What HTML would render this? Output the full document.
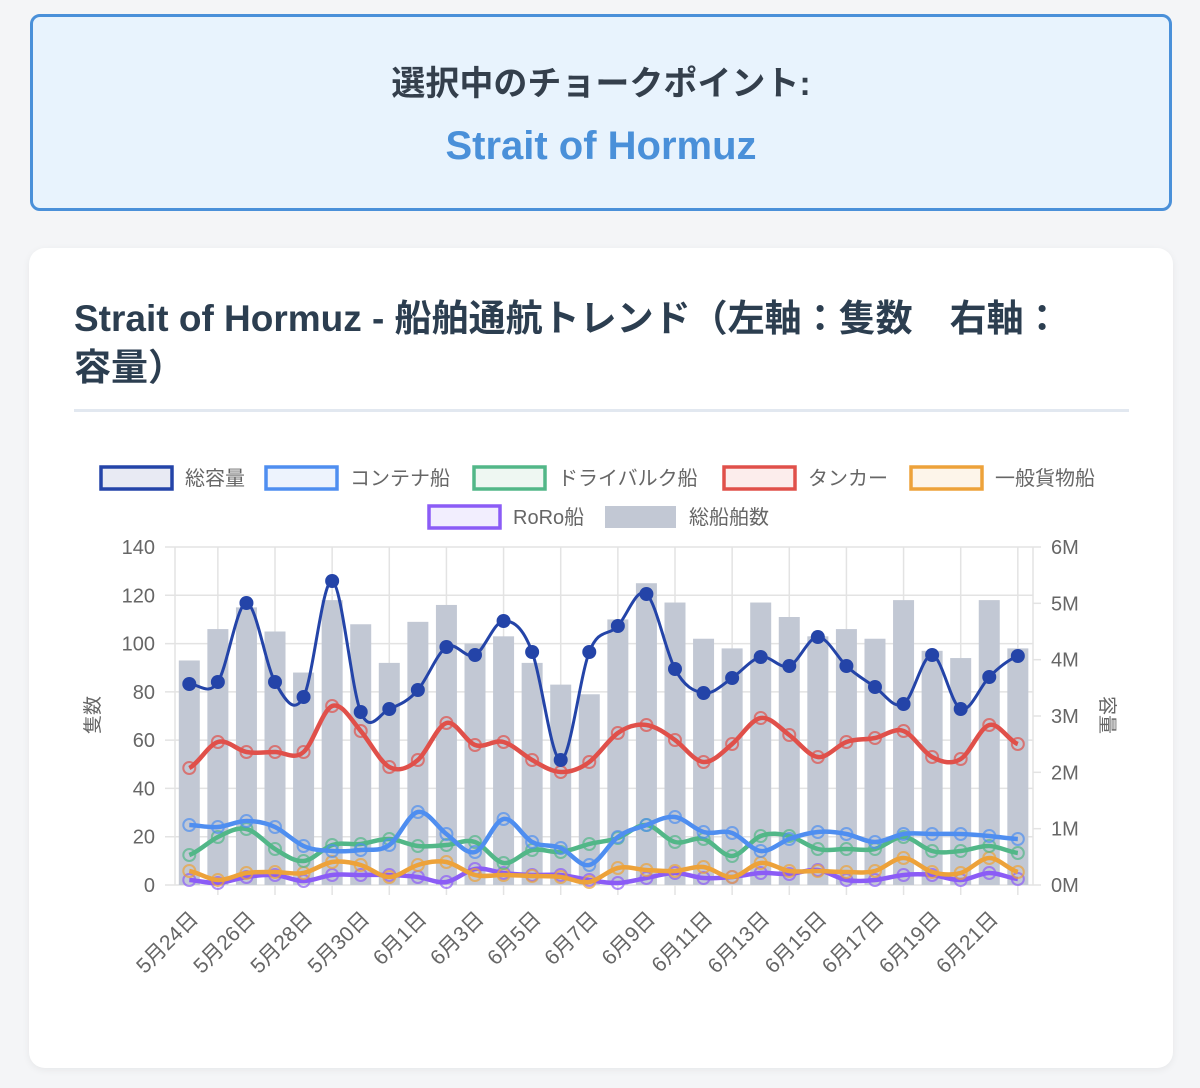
<!DOCTYPE html>
<html><head><meta charset="utf-8">
<style>
body{margin:0;width:1200px;height:1088px;background:#f4f5f7;font-family:"Liberation Sans","Noto Sans CJK JP",sans-serif;position:relative;overflow:hidden}
.top{position:absolute;left:30px;top:14px;width:1136px;height:191px;background:#e8f3fd;border:3px solid #4a90d9;border-radius:10px}
.top .t1{position:absolute;top:39px;width:100%;text-align:center;font-size:34px;font-weight:bold;color:#343f4c}
.top .t2{position:absolute;top:107px;width:100%;text-align:center;font-size:40px;font-weight:bold;color:#4a90d9}
.card{position:absolute;left:29px;top:248px;width:1144px;height:820px;background:#fff;border-radius:16px;box-shadow:0 2px 8px rgba(0,0,0,0.06)}
.title{position:absolute;left:45px;top:46px;width:1060px;font-size:37px;font-weight:bold;color:#2c3e50;line-height:49px;white-space:nowrap}
.hr{position:absolute;left:45px;top:161px;width:1055px;height:3px;background:#e2e8f0}
svg{position:absolute;left:0;top:0}
</style></head><body>
<div class="top"><div class="t1">選択中のチョークポイント:</div><div class="t2">Strait of Hormuz</div></div>
<div class="card"><div class="title">Strait of Hormuz - 船舶通航トレンド（左軸：隻数　右軸：<br>容量）</div><div class="hr"></div></div>
<svg id="s" width="1200" height="1088" xmlns="http://www.w3.org/2000/svg" font-family="Liberation Sans, Noto Sans CJK JP, sans-serif"></svg>
<script>
var s=document.getElementById('s'),h='';
var X=function(i){return 189.3+28.57*i};
var Y=function(v){return 885-v*338/140};
for(var k=0;k<=7;k++){var y=Y(k*20);h+='<line x1="165" x2="1033" y1="'+y+'" y2="'+y+'" stroke="#e3e3e3" stroke-width="1.5"/>';h+='<text x="155" y="'+(y+7)+'" text-anchor="end" font-size="20" fill="#666">'+(k*20)+'</text>';}
for(var k=0;k<=6;k++){var y=885-k*338/6;h+='<line x1="1033" x2="1041" y1="'+y+'" y2="'+y+'" stroke="#e3e3e3" stroke-width="1.5"/>';h+='<text x="1051" y="'+(y+7)+'" font-size="20" fill="#666">'+k+'M</text>';}
h+='<line x1="175" x2="175" y1="547" y2="885" stroke="#e3e3e3" stroke-width="1.5"/><line x1="1033" x2="1033" y1="547" y2="885" stroke="#e3e3e3" stroke-width="1.5"/>';
for(var i=1;i<30;i+=2){var x=X(i);h+='<line x1="'+x+'" x2="'+x+'" y1="547" y2="895" stroke="#e3e3e3" stroke-width="1.5"/>';}
var labs=['5月24日','5月26日','5月28日','5月30日','6月1日','6月3日','6月5日','6月7日','6月9日','6月11日','6月13日','6月15日','6月17日','6月19日','6月21日'];
for(var j=0;j<15;j++){var x=X(2*j)+10,y=920;h+='<text x="'+x+'" y="'+y+'" text-anchor="end" font-size="21" fill="#666" transform="rotate(-45 '+x+' '+y+')">'+labs[j]+'</text>';}
h+='<text x="0" y="0" font-size="19" fill="#666" text-anchor="middle" transform="translate(99 715) rotate(-90)">隻数</text>';
h+='<text x="0" y="0" font-size="19" fill="#666" text-anchor="middle" transform="translate(1101 715) rotate(90)">容量</text>';
var bars=[93,106,115,105,88,118,108,92,109,116,100,103,92,83,79,110,125,117,102,98,117,111,103,106,102,118,97,94,118,98];
bars.forEach(function(v,i){h+='<rect x="'+(X(i)-10.5)+'" y="'+Y(v)+'" width="21" height="'+(885-Y(v))+'" fill="#c2c8d4"/>';});
function path(p){var d='M'+p[0][0]+' '+p[0][1];for(var i=0;i<p.length-1;i++){var p0=p[i-1]||p[i],p1=p[i],p2=p[i+1],p3=p[i+2]||p2;
var c1=[p1[0]+(p2[0]-p1[0])/3,p1[1]+(p2[1]-p0[1])/6*1.1],c2=[p2[0]-(p2[0]-p1[0])/3,p2[1]-(p3[1]-p1[1])/6*1.1];
d+=' C'+c1[0]+' '+c1[1]+' '+c2[0]+' '+c2[1]+' '+p2[0]+' '+p2[1];}return d;}
function series(ys,col,w,filled){var p=ys.map(function(y,i){return [X(i),y]});
h+='<path d="'+path(p)+'" fill="none" stroke="'+col+'" stroke-width="'+w+'" stroke-linejoin="round"/>';
p.forEach(function(q){if(filled)h+='<circle cx="'+q[0]+'" cy="'+q[1]+'" r="7" fill="'+col+'"/>';else h+='<circle cx="'+q[0]+'" cy="'+q[1]+'" r="6" fill="none" stroke="'+col+'" stroke-opacity="0.7" stroke-width="2"/>';});}
series([880,883,877,875,881,875,875,875,877,882,869,873,875,875,880,883,878,873,878,877,873,874,870,880,880,875,875,880,873,879],'#8b5cf6',4.5);
series([871,880,873,872,873,862,865,877,865,862,875,875,876,877,882,868,870,871,867,877,863,871,871,872,871,858,872,873,858,872],'#eda23a',4.5);
series([855,837,829,849,861,845,844,839,846,845,842,863,850,852,844,838,825,842,839,856,836,836,849,849,849,837,851,851,846,853],'#52b788',4.5);
series([825,827,821,827,846,851,850,845,812,834,852,819,842,848,865,837,825,817,832,833,851,839,832,834,842,834,834,834,836,839],'#4f8ef0',4.5);
series([768,742,752,752,752,706,731,767,760,723,745,742,760,772,762,733,725,740,762,744,718,735,757,742,738,731,757,759,725,744],'#e0504a',4.5);
series([684,682,603,682,697,581,712,709,690,647,655,621,652,760,652,626,594,669,693,678,657,666,637,666,687,704,655,709,677,656],'#2444a8',3,true);
function leg(x,y,col,fill,txt){h+='<rect x="'+x+'" y="'+(y-11)+'" width="71" height="22" fill="'+fill+'" stroke="'+col+'" stroke-width="3.5"/>';h+='<text x="'+(x+84)+'" y="'+(y+7)+'" font-size="20" fill="#666">'+txt+'</text>';}
leg(101,478,'#2444a8','#e8eaf3','総容量');
leg(266,478,'#4f8ef0','#edf3fd','コンテナ船');
leg(474,478,'#52b788','#eef7f2','ドライバルク船');
leg(724,478,'#e0504a','#fcedec','タンカー');
leg(911,478,'#eda23a','#fdf5ea','一般貨物船');
leg(429,517,'#8b5cf6','#f2eefe','RoRo船');
h+='<rect x="605" y="506" width="71" height="22" fill="#c2c8d4"/><text x="689" y="524" font-size="20" fill="#666">総船舶数</text>';
s.innerHTML=h;
</script>
</body></html>
